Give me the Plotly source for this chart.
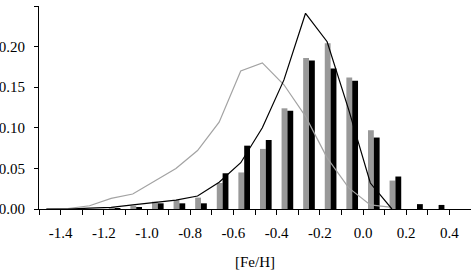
import plotly.graph_objects as go

# Bin centres of the [Fe/H] histogram (bin width 0.1)
bin_centers = [-1.45, -1.35, -1.25, -1.15, -1.05, -0.95, -0.85, -0.75, -0.65, -0.55,
               -0.45, -0.35, -0.25, -0.15, -0.05, 0.05, 0.15, 0.25, 0.35, 0.45]

gray_bars = [0.0, 0.0, 0.0, 0.002, 0.004, 0.009, 0.011, 0.014, 0.032, 0.045,
             0.074, 0.124, 0.186, 0.204, 0.162, 0.097, 0.035, 0.0, 0.0, 0.0]
black_bars = [0.0, 0.0, 0.0, 0.001, 0.002, 0.007, 0.007, 0.007, 0.044, 0.078,
              0.085, 0.121, 0.183, 0.173, 0.158, 0.088, 0.040, 0.006, 0.005, 0.0]

line_centers = [-1.45, -1.35, -1.25, -1.15, -1.05, -0.95, -0.85, -0.75, -0.65, -0.55,
                -0.45, -0.35, -0.25, -0.15, -0.05, 0.05, 0.15]
gray_line = [0.0, 0.0005, 0.004, 0.013, 0.0185, 0.034, 0.050, 0.072, 0.107, 0.170,
             0.180, 0.153, 0.114, 0.063, 0.026, 0.005, 0.002]
black_line = [0.0, 0.0, 0.001, 0.002, 0.005, 0.008, 0.011, 0.016, 0.033, 0.057,
              0.100, 0.159, 0.241, 0.206, 0.122, 0.032, 0.0]
line_shift = -0.016

x_tickvals = [-1.5, -1.4, -1.3, -1.2, -1.1, -1.0, -0.9, -0.8, -0.7, -0.6, -0.5,
              -0.4, -0.3, -0.2, -0.1, 0.0, 0.1, 0.2, 0.3, 0.4, 0.5]
x_ticktext = ["", "-1.4", "", "-1.2", "", "-1.0", "", "-0.8", "", "-0.6", "",
              "-0.4", "", "-0.2", "", "0.0", "", "0.2", "", "0.4", ""]
y_tickvals = [0.0, 0.05, 0.10, 0.15, 0.20, 0.25]
y_ticktext = ["0.00", "0.05", "0.10", "0.15", "0.20", "0.25"]

FONT = "Liberation Serif"

fig = go.Figure()
fig.add_trace(go.Bar(x=bin_centers, y=gray_bars, marker=dict(color="#999999", line=dict(width=0)),
                     showlegend=False))
fig.add_trace(go.Bar(x=bin_centers, y=black_bars, marker=dict(color="#000000", line=dict(width=0)),
                     showlegend=False))
lx = [c + line_shift for c in line_centers]
fig.add_trace(go.Scatter(x=lx, y=gray_line, mode="lines",
                         line=dict(color="#a3a3a3", width=1.2), showlegend=False))
fig.add_trace(go.Scatter(x=lx, y=black_line, mode="lines",
                         line=dict(color="#000000", width=1.2), showlegend=False))

fig.update_layout(
    width=471, height=272,
    margin=dict(l=39, r=0, t=6, b=63),
    paper_bgcolor="white", plot_bgcolor="white",
    barmode="group", bargap=0.46, bargroupgap=0,
    font=dict(family=FONT, size=15, color="black"),
    xaxis=dict(range=[-1.5, 0.5], tickmode="array", tickvals=x_tickvals, ticktext=x_ticktext,
               ticks="outside", ticklen=5, tickwidth=1, tickcolor="black",
               showline=True, linecolor="black", linewidth=1, automargin=False,
               showgrid=False, zeroline=False, ticklabelstandoff=5,
               title=dict(text="[Fe/H]", standoff=16, font=dict(family=FONT, size=15))),
    yaxis=dict(range=[0, 0.25], tickmode="array", tickvals=y_tickvals, ticktext=y_ticktext,
               ticks="outside", ticklen=4, tickwidth=1, tickcolor="black",
               showline=True, linecolor="black", linewidth=1, automargin=False,
               showgrid=False, zeroline=False, ticklabelstandoff=6),
)

fig.write_html("out.html", config={"displayModeBar": False},
               post_script="document.body.style.margin='0';document.body.style.padding='0';")
